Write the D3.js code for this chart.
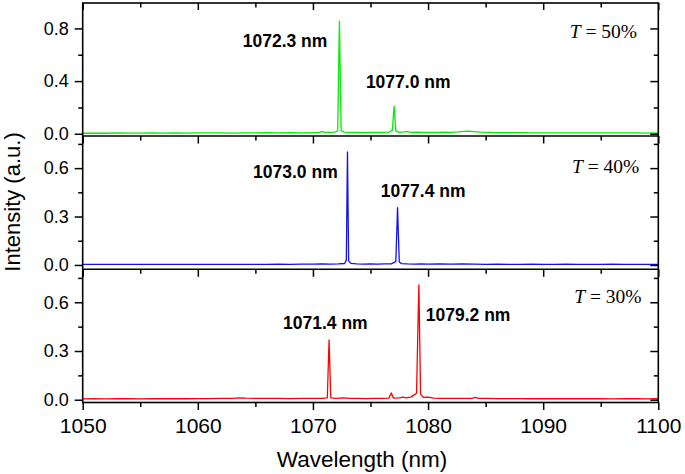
<!DOCTYPE html>
<html><head><meta charset="utf-8">
<script src="https://cdn.jsdelivr.net/npm/d3@7/dist/d3.min.js"></script>
<style>
html,body{margin:0;padding:0;background:#fff;}
svg{display:block;}
</style></head>
<body>
<svg id="chart" width="685" height="474"></svg>
<script>
// ---------- data ----------
const xTicks = [1050, 1060, 1070, 1080, 1090, 1100];
const xMinorTicks = [1055, 1065, 1075, 1085, 1095];

const greenWl = [1050,1051,1052,1053,1054,1055,1056,1057,1058,1059,1060,1061,1062,1063,1064,1065,1066,1067,1068,1069,1070,1070.5,1070.8,1071.1,1071.5,1071.9,1072.15,1072.3,1072.45,1072.7,1073.2,1073.8,1074.3,1074.9,1075.5,1076.1,1076.6,1076.9,1077.05,1077.2,1077.5,1077.9,1078.1,1078.5,1079,1079.6,1080.2,1080.8,1081.4,1082,1082.6,1083.1,1083.5,1084,1084.6,1085.3,1086,1087,1088,1089,1090,1091,1092,1093,1094,1095,1096,1097,1098,1099,1100];
const greenI  = [0.004,0.005,0.004,0.006,0.005,0.005,0.007,0.005,0.006,0.005,0.006,0.007,0.006,0.005,0.007,0.006,0.008,0.007,0.008,0.007,0.009,0.010,0.016,0.010,0.011,0.012,0.022,0.855,0.024,0.012,0.010,0.011,0.009,0.011,0.010,0.010,0.012,0.026,0.210,0.022,0.011,0.014,0.018,0.011,0.012,0.010,0.011,0.010,0.012,0.011,0.014,0.018,0.020,0.016,0.012,0.010,0.009,0.008,0.008,0.007,0.007,0.006,0.007,0.006,0.006,0.007,0.006,0.006,0.006,0.005,0.006];

const blueWl = [1050,1051,1052,1053,1054,1055,1056,1057,1058,1059,1060,1061,1062,1063,1064,1065,1066,1067,1068,1069,1070,1070.8,1071.5,1072.2,1072.75,1072.9,1073.0,1073.1,1073.3,1073.8,1074.4,1075,1075.6,1076.2,1076.8,1077.2,1077.35,1077.5,1077.7,1078.2,1078.8,1079.4,1080,1081,1082,1083,1084,1085,1086,1087,1088,1089,1090,1091,1092,1093,1094,1095,1096,1097,1098,1099,1100];
const blueI  = [0.003,0.004,0.003,0.004,0.003,0.004,0.003,0.004,0.004,0.003,0.004,0.003,0.004,0.004,0.003,0.004,0.004,0.005,0.004,0.005,0.005,0.006,0.005,0.006,0.009,0.030,0.700,0.025,0.010,0.006,0.005,0.006,0.005,0.006,0.007,0.020,0.355,0.018,0.008,0.006,0.005,0.006,0.005,0.006,0.005,0.006,0.005,0.004,0.005,0.004,0.004,0.005,0.004,0.004,0.005,0.004,0.004,0.004,0.005,0.004,0.004,0.004,0.004];

const redWl = [1050,1051,1052,1053,1054,1055,1056,1057,1058,1059,1060,1061,1062,1063,1063.6,1064.2,1065,1066,1067,1068,1069,1070,1070.8,1071.25,1071.4,1071.55,1072,1072.6,1073.2,1073.9,1074.6,1075.3,1076,1076.6,1076.8,1077,1077.5,1077.8,1078.1,1078.5,1078.8,1079.0,1079.2,1079.35,1079.6,1080,1080.5,1081,1082,1083,1083.8,1084.1,1084.4,1085,1086,1087,1088,1089,1090,1091,1092,1093,1094,1095,1096,1097,1098,1099,1100];
const redI  = [0.005,0.006,0.005,0.006,0.006,0.005,0.006,0.007,0.006,0.006,0.007,0.007,0.008,0.009,0.012,0.010,0.009,0.008,0.008,0.007,0.008,0.008,0.009,0.012,0.368,0.012,0.008,0.011,0.008,0.008,0.007,0.008,0.009,0.010,0.042,0.010,0.011,0.016,0.011,0.016,0.030,0.040,0.707,0.035,0.014,0.016,0.010,0.009,0.008,0.008,0.009,0.014,0.008,0.008,0.007,0.007,0.007,0.006,0.007,0.006,0.006,0.006,0.006,0.006,0.005,0.006,0.006,0.005,0.006];

const panelTicks = {
  top:    { major: [0, 0.4, 0.8], minor: [0.2, 0.6] },
  middle: { major: [0, 0.3, 0.6], minor: [0.15, 0.45, 0.75] },
  bottom: { major: [0, 0.3, 0.6], minor: [0.15, 0.45, 0.75] }
};
const peakLabels = [
  { panel: "top",    text: "1072.3 nm", wl: 1063.9, v: 0.658 },
  { panel: "top",    text: "1077.0 nm", wl: 1074.6, v: 0.347 },
  { panel: "middle", text: "1073.0 nm", wl: 1064.8, v: 0.54 },
  { panel: "middle", text: "1077.4 nm", wl: 1075.9, v: 0.422 },
  { panel: "bottom", text: "1071.4 nm", wl: 1067.4, v: 0.436 },
  { panel: "bottom", text: "1079.2 nm", wl: 1079.8, v: 0.485 }
];
const tLabels = [
  { panel: "top",    value: "50%", v: 0.727, wlEnd: 1098.15 },
  { panel: "middle", value: "40%", v: 0.571, wlEnd: 1098.35 },
  { panel: "bottom", value: "30%", v: 0.596, wlEnd: 1098.55 }
];

// ---------- layout ----------
const svg = d3.select("#chart");
const x = d3.scaleLinear().domain([1050, 1100]).range([82.7, 658.3]);
const panels = {
  top:    d3.scaleLinear().domain([-0.017, 0.993]).range([136, 3]),
  middle: d3.scaleLinear().domain([-0.027, 0.799]).range([269.3, 136]),
  bottom: d3.scaleLinear().domain([-0.017, 0.803]).range([402.5, 269.3])
};
const series = [
  { panel: "top",    wl: greenWl, val: greenI, color: "#00ee00" },
  { panel: "middle", wl: blueWl,  val: blueI,  color: "#1010f0" },
  { panel: "bottom", wl: redWl,   val: redI,   color: "#ff0000" }
];
const fontSans = "'Liberation Sans', Arial, sans-serif";
const fontSerif = "'Liberation Serif', 'Times New Roman', serif";

// lines
series.forEach(s => {
  const y = panels[s.panel];
  const line = d3.line().x(d => x(d[0])).y(d => y(d[1]));
  svg.append("path")
    .datum(s.wl.map((w, i) => [w, s.val[i]]))
    .attr("d", line)
    .attr("fill", "none")
    .attr("stroke", s.color)
    .attr("stroke-width", 1.3)
    .attr("stroke-linejoin", "round");
});

function styleAxis(g) {
  g.select(".domain").remove();
  g.selectAll(".tick line").attr("stroke", "#000").attr("stroke-width", 1.5);
}

// y axes
Object.keys(panels).forEach(k => {
  const y = panels[k];
  const t = panelTicks[k];
  svg.append("g").attr("transform", `translate(${x.range()[0]},0)`)
    .call(d3.axisLeft(y).tickValues(t.major).tickSize(8).tickPadding(6).tickFormat(d3.format(".1f")))
    .call(styleAxis)
    .call(g => g.selectAll("text").attr("font-family", fontSans).attr("font-size", 18).attr("fill", "#000"));
  svg.append("g").attr("transform", `translate(${x.range()[0]},0)`)
    .call(d3.axisLeft(y).tickValues(t.minor).tickSize(4.5).tickFormat(""))
    .call(styleAxis);
  // right side, inward
  svg.append("g").attr("transform", `translate(${x.range()[1]},0)`)
    .call(d3.axisLeft(y).tickValues(t.major).tickSize(8).tickFormat(""))
    .call(styleAxis);
  svg.append("g").attr("transform", `translate(${x.range()[1]},0)`)
    .call(d3.axisLeft(y).tickValues(t.minor).tickSize(4.5).tickFormat(""))
    .call(styleAxis);
});

// x ticks: top (inward) and below each panel
const topY = panels.top.range()[1];
svg.append("g").attr("transform", `translate(0,${topY})`)
  .call(d3.axisBottom(x).tickValues(xTicks).tickSize(7).tickFormat(""))
  .call(styleAxis);
svg.append("g").attr("transform", `translate(0,${topY})`)
  .call(d3.axisBottom(x).tickValues(xMinorTicks).tickSize(4.5).tickFormat(""))
  .call(styleAxis);
["top", "middle", "bottom"].forEach(k => {
  const yb = panels[k].range()[0];
  const last = k === "bottom";
  svg.append("g").attr("transform", `translate(0,${yb})`)
    .call(d3.axisBottom(x).tickValues(xTicks).tickSize(7.5).tickPadding(8)
      .tickFormat(last ? d3.format("d") : ""))
    .call(styleAxis)
    .call(g => g.selectAll("text").attr("font-family", fontSans).attr("font-size", 21).attr("fill", "#000"));
  svg.append("g").attr("transform", `translate(0,${yb})`)
    .call(d3.axisBottom(x).tickValues(xMinorTicks).tickSize(4.5).tickFormat(""))
    .call(styleAxis);
});

// frame and separators
const x0 = x.range()[0], x1 = x.range()[1];
svg.append("rect").attr("x", x0).attr("y", topY).attr("width", x1 - x0)
  .attr("height", panels.bottom.range()[0] - topY)
  .attr("fill", "none").attr("stroke", "#000").attr("stroke-width", 1.6);
["top", "middle"].forEach(k => {
  const yb = panels[k].range()[0];
  svg.append("line").attr("x1", x0).attr("x2", x1).attr("y1", yb).attr("y2", yb)
    .attr("stroke", "#000").attr("stroke-width", 1.6);
});

// peak labels
peakLabels.forEach(p => {
  svg.append("text").attr("x", x(p.wl)).attr("y", panels[p.panel](p.v))
    .attr("font-family", fontSans).attr("font-weight", "bold").attr("font-size", 17.5)
    .attr("fill", "#000").text(p.text);
});

// T labels
tLabels.forEach(t => {
  const txt = svg.append("text").attr("x", x(t.wlEnd)).attr("y", panels[t.panel](t.v))
    .attr("text-anchor", "end").attr("font-family", fontSerif).attr("font-size", 19.5).attr("fill", "#000");
  txt.append("tspan").attr("font-style", "italic").text("T");
  txt.append("tspan").text(" = " + t.value);
});

// axis titles
svg.append("text").attr("x", 362).attr("y", 466.5).attr("text-anchor", "middle")
  .attr("font-family", fontSans).attr("font-size", 22.5).attr("fill", "#000").text("Wavelength (nm)");
svg.append("text").attr("transform", "translate(19.5,202) rotate(-90)").attr("text-anchor", "middle")
  .attr("font-family", fontSans).attr("font-size", 22).attr("fill", "#000").text("Intensity (a.u.)");
</script>
</body></html>
